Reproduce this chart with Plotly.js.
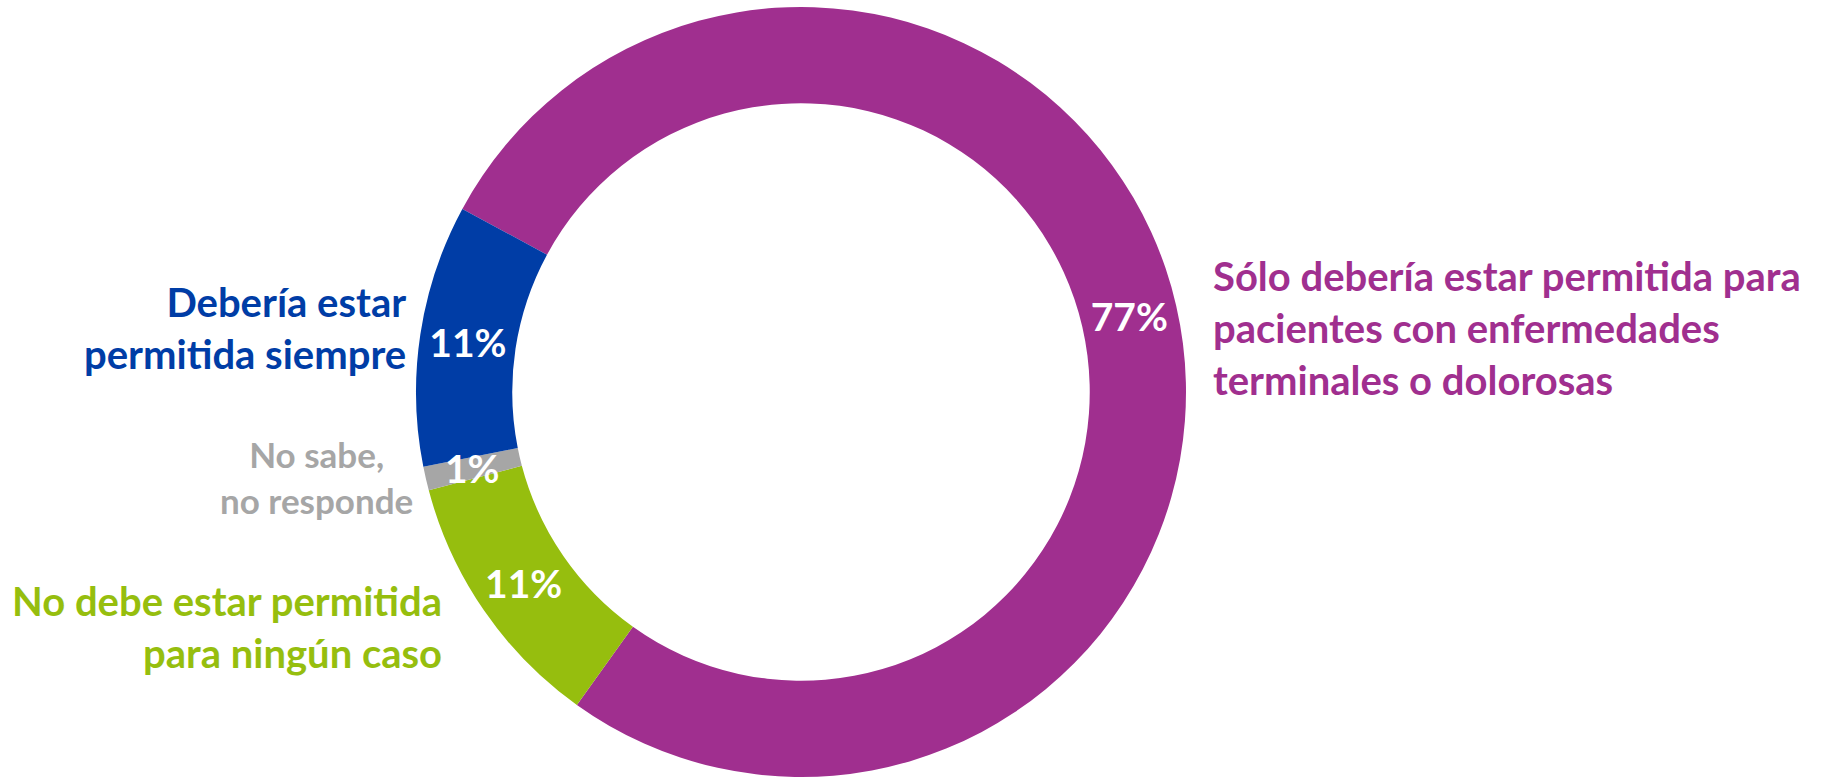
<!DOCTYPE html>
<html>
<head>
<meta charset="utf-8">
<script src="https://cdn.plot.ly/plotly-3.0.1.min.js"></script>
<style>
  html, body { margin: 0; padding: 0; background: #ffffff; }
  #chart { width: 1821px; height: 777px; }
</style>
</head>
<body>
<div id="chart"></div>
<script>
// ---- data ----
const categories = [
  'Sólo debería estar permitida para<br>pacientes con enfermedades<br>terminales o dolorosas',
  'No debe estar permitida<br>para ningún caso',
  'No sabe,<br>no responde',
  'Debería estar<br>permitida siempre'
];
const values = [77, 11, 1, 11];

// ---- style ----
const colors = ['#A02F8F', '#96BE0E', '#A6A6A6', '#003DA6'];
const FONT = 'Lato, "Open Sans", sans-serif';

const W = 1821, H = 777;
const cx = 801, cy = 392, R = 385;
const HOLE = 0.75;
const ROTATION = 298.4;

// slices too thin for Plotly's inside text get their value drawn as an annotation
const smallSlice = values.map(v => v < 5);

const trace = {
  type: 'pie',
  labels: categories,
  values: values,
  sort: false,
  direction: 'clockwise',
  rotation: ROTATION,
  hole: HOLE,
  marker: { colors: colors, line: { width: 0 } },
  texttemplate: values.map((v, i) => smallSlice[i] ? '' : '%{value}%'),
  textposition: values.map((v, i) => smallSlice[i] ? 'none' : 'inside'),
  insidetextorientation: 'horizontal',
  textfont: { family: FONT, size: 39, color: '#ffffff', weight: 'bold' },
  hoverinfo: 'none',
  showlegend: false,
  domain: {
    x: [(cx - R) / W, (cx + R) / W],
    y: [(H - cy - R) / H, (H - cy + R) / H]
  }
};

// category label placement (px from top-left), anchor side, alignment, size
const labelPos = [
  { x: 1211, y: 328, anchor: 'left',   align: 'left',   size: 40 },
  { x: 444,  y: 627, anchor: 'right',  align: 'right',  size: 40 },
  { x: 316,  y: 477, anchor: 'center', align: 'center', size: 35 },
  { x: 408,  y: 328, anchor: 'right',  align: 'right',  size: 40 }
];

const annotations = categories.map((c, i) => ({
  xref: 'paper', yref: 'paper',
  x: labelPos[i].x / W,
  y: (H - labelPos[i].y) / H,
  xanchor: labelPos[i].anchor,
  yanchor: 'middle',
  align: labelPos[i].align,
  showarrow: false,
  text: c,
  font: { family: FONT, size: labelPos[i].size, color: colors[i], weight: 'bold' }
}));

// value labels for thin slices, placed at the slice's mid-angle on the ring's mid-radius
const total = values.reduce((a, b) => a + b, 0);
let acc = 0;
values.forEach((v, i) => {
  const mid = (ROTATION + 360 * (acc + v / 2) / total) * Math.PI / 180;
  acc += v;
  if (!smallSlice[i]) return;
  const rMid = R * (1 + HOLE) / 2;
  const px = cx + rMid * Math.sin(mid);
  const py = cy - rMid * Math.cos(mid);
  annotations.push({
    xref: 'paper', yref: 'paper',
    x: px / W, y: (H - py) / H,
    xanchor: 'center', yanchor: 'middle',
    showarrow: false,
    text: v + '%',
    font: { family: FONT, size: 39, color: '#ffffff', weight: 'bold' }
  });
});

const layout = {
  width: W, height: H,
  margin: { l: 0, r: 0, t: 0, b: 0 },
  paper_bgcolor: '#ffffff',
  plot_bgcolor: '#ffffff',
  uniformtext: { mode: 'show', minsize: 39 },
  annotations: annotations
};

Plotly.newPlot('chart', [trace], layout, { displayModeBar: false, staticPlot: true });
</script>
</body>
</html>
